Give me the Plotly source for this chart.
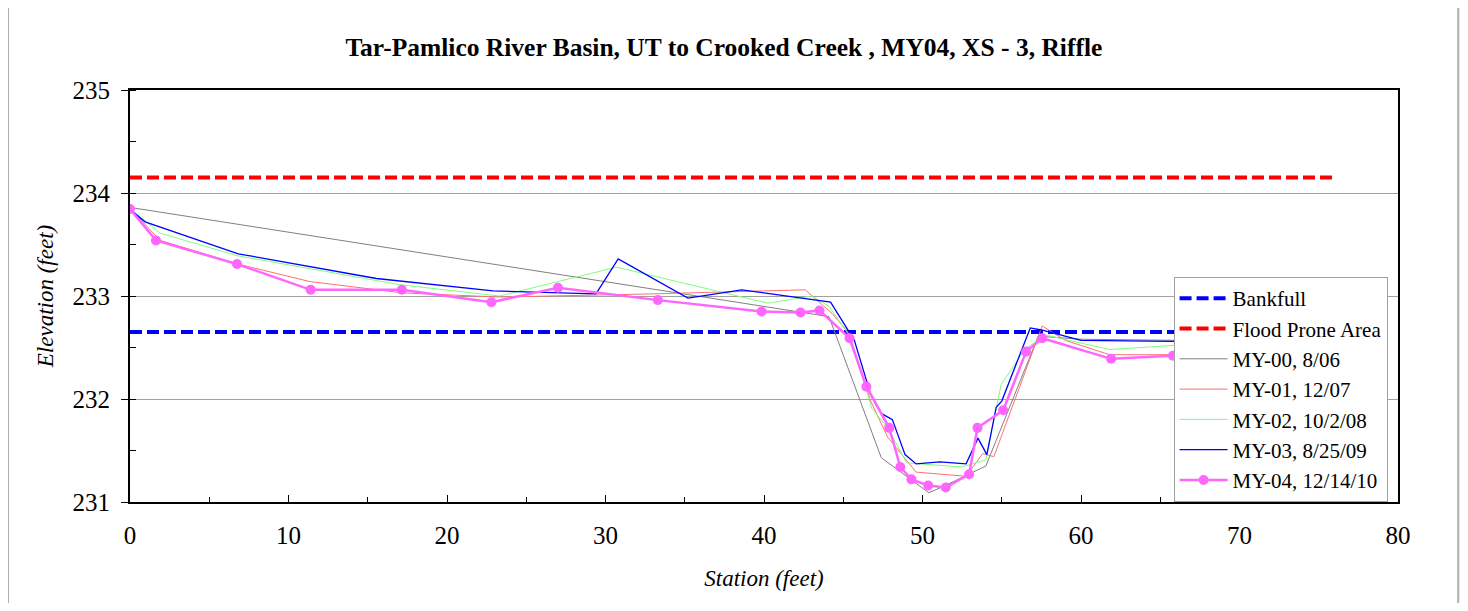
import plotly.graph_objects as go

# --- data ---
bankfull_x = [0, 76]
bankfull_y = [232.65, 232.65]
flood_x = [0, 76]
flood_y = [234.15, 234.15]

my00_x = [0, 44.1, 47.4, 50.4, 51.3, 54.0, 57.3, 60.0, 65.8, 76.0]
my00_y = [233.86, 232.80, 231.43, 231.09, 231.15, 231.35, 232.61, 232.58, 232.57, 232.57]

my01_x = [0, 1.9, 6.8, 11.35, 17.2, 23.3, 32.8, 42.6, 44.3, 45.3, 46.7, 47.8, 49.6,
          52.75, 53.8, 54.5, 57.55, 59.0, 61.8, 65.8, 76.0]
my01_y = [233.85, 233.54, 233.31, 233.14, 233.03, 232.99, 233.02, 233.06, 232.83, 232.65,
          231.99, 231.63, 231.29, 231.25, 231.47, 231.44, 232.71, 232.57, 232.43, 232.43, 232.43]

my02_x = [0, 1.9, 6.8, 17.0, 23.3, 30.7, 40.25, 43.0, 44.1, 45.5, 46.8, 47.8, 49.0,
          52.5, 54.0, 54.96, 56.5, 57.8, 61.8, 65.8, 76.0]
my02_y = [233.85, 233.61, 233.39, 233.11, 233.00, 233.28, 232.93, 233.00, 232.90, 232.59,
          231.91, 231.72, 231.38, 231.34, 231.41, 232.14, 232.49, 232.62, 232.48, 232.52, 232.55]

my03_x = [0, 0.95, 6.83, 15.55, 22.9, 29.4, 30.8, 35.2, 38.6, 44.2, 45.7, 46.7, 47.4,
          48.1, 48.9, 49.6, 51.1, 52.75, 53.5, 54.06, 54.65, 55.0, 56.8, 57.5, 60.0, 65.8, 76.0]
my03_y = [233.84, 233.72, 233.41, 233.17, 233.05, 233.02, 233.36, 232.98, 233.06, 232.94,
          232.57, 232.06, 231.86, 231.80, 231.46, 231.37, 231.39, 231.37, 231.62, 231.46,
          231.92, 231.98, 232.69, 232.67, 232.57, 232.56, 232.56]

my04_x = [0, 1.64, 6.75, 11.4, 17.15, 22.8, 27.0, 33.3, 39.85, 42.3, 43.5, 45.4, 46.46,
          47.9, 48.6, 49.3, 50.36, 51.47, 52.94, 53.47, 55.09, 56.54, 57.55, 61.9, 65.8, 76.0]
my04_y = [233.845, 233.54, 233.31, 233.06, 233.06, 232.94, 233.08, 232.96, 232.85, 232.84,
          232.86, 232.59, 232.12, 231.72, 231.34, 231.22, 231.16, 231.14, 231.27, 231.72,
          231.89, 232.46, 232.59, 232.39, 232.42, 232.45]

FONT = "Liberation Serif, Times New Roman, serif"

fig = go.Figure()

series = [
    ("Bankfull", bankfull_x, bankfull_y, dict(color="#0000FF", width=4, dash="12px,5px"), None),
    ("Flood Prone Area", flood_x, flood_y, dict(color="#FF0000", width=4, dash="12px,5px"), None),
    ("MY-00, 8/06", my00_x, my00_y, dict(color="#808080", width=1), None),
    ("MY-01, 12/07", my01_x, my01_y, dict(color="#FF7070", width=1), None),
    ("MY-02, 10/2/08", my02_x, my02_y, dict(color="#7CFF7C", width=1), None),
    ("MY-03, 8/25/09", my03_x, my03_y, dict(color="#0000FF", width=1.3), None),
    ("MY-04, 12/14/10", my04_x, my04_y, dict(color="#FF66FF", width=2.5), dict(size=10, color="#FF66FF")),
]

for i, (name, xs, ys, line, marker) in enumerate(series):
    fig.add_trace(go.Scatter(
        x=xs, y=ys, name=name, line=line,
        mode="lines+markers" if marker else "lines",
        marker=marker, legendgroup=f"g{i}",
    ))

# the page body has an 8px margin, so the figure is sized/offset to compensate
fig.update_layout(
    width=1452, height=595,
    margin=dict(l=122, r=62, t=82, b=101),
    paper_bgcolor="white", plot_bgcolor="white",
    font=dict(family=FONT, color="black"),
    title=dict(
        text="<b>Tar-Pamlico River Basin, UT to Crooked Creek , MY04, XS - 3, Riffle</b>",
        x=0.493, xanchor="center", y=0.935, yanchor="middle",
        font=dict(size=25.5, family=FONT),
    ),
    showlegend=True,
    legend=dict(
        x=0.823, y=0.546, xanchor="left", yanchor="top",
        bgcolor="white", bordercolor="#A0A0A0", borderwidth=1,
        font=dict(size=21, family=FONT),
        traceorder="grouped", tracegroupgap=0, itemwidth=48,
    ),
    shapes=[
        dict(type="rect", xref="paper", yref="paper",
             x0=-0.0962, x1=1.0475, y0=-0.30, y1=1.206,
             line=dict(color="#B0B0B0", width=2), layer="below"),
    ],
)

fig.update_xaxes(
    range=[0, 80], dtick=10, tick0=0,
    showgrid=False, zeroline=False,
    showline=True, linecolor="black", linewidth=2, mirror=True,
    ticks="inside", ticklen=7, tickcolor="black",
    minor=dict(dtick=5, ticks="inside", ticklen=5, tickcolor="black"),
    tickfont=dict(size=25, family=FONT), ticklabelstandoff=10,
    title=dict(text="<i>Station (feet)</i>", font=dict(size=23, family=FONT), standoff=22),
)
fig.update_yaxes(
    range=[231, 235], dtick=1, tick0=231,
    showgrid=True, gridcolor="#A0A0A0", gridwidth=1, zeroline=False,
    showline=True, linecolor="black", linewidth=2, mirror=True,
    ticks="outside", ticklen=7, tickcolor="black",
    minor=dict(dtick=0.5, ticks="inside", ticklen=6, tickcolor="black", showgrid=False),
    tickfont=dict(size=25, family=FONT), ticklabelstandoff=6,
    title=dict(text="<i>Elevation (feet)</i>", font=dict(size=23, family=FONT), standoff=12),
)

fig.write_html("out.html")
